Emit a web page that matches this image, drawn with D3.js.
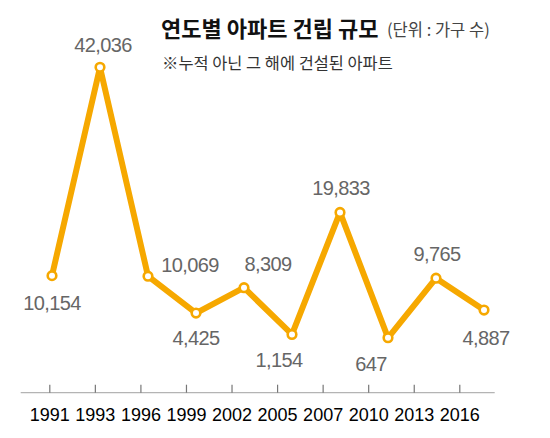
<!DOCTYPE html>
<html>
<head>
<meta charset="utf-8">
<script src="https://cdn.jsdelivr.net/npm/d3@7"></script>
<style>
  body { margin: 0; background: #fff; }
  svg { display: block; }
</style>
</head>
<body>
<svg width="550" height="438"></svg>
<script>
// data
const years = ['1991', '1993', '1996', '1999', '2002', '2005', '2007', '2010', '2013', '2016'];
const units = [10154, 42036, 10069, 4425, 8309, 1154, 19833, 647, 9765, 4887];

// where each value label sits relative to its point [dx, baseline dy]
const labelOffsets = [[0, 34], [3, -15], [42, -4], [0, 32], [24, -17], [-13, 33], [1, -17], [-17, 33], [1, -17], [2, 35]];

const svg = d3.select('svg');
const orange = '#f6a800';

const x = d3.scalePoint().domain(years).range([52, 484]);
// axis ticks are spaced a little tighter than the points in the original
const xAxisScale = d3.scalePoint().domain(years).range([49.3, 459.3]);
const y = d3.scaleLinear().domain([0, 42036]).range([342, 67.3]);

const data = years.map((yr, i) => ({ year: yr, value: units[i], off: labelOffsets[i] }));

// title
svg.append('text')
    .attr('x', 161)
    .attr('y', 37)
    .style('font-family', '"Noto Sans CJK KR", sans-serif')
    .style('font-size', '22px')
    .style('font-weight', 'bold')
    .attr('fill', '#111')
    .text('연도별 아파트 건립 규모');

svg.append('text')
    .attr('x', 387)
    .attr('y', 36)
    .style('font-family', '"Noto Sans CJK KR", sans-serif')
    .style('font-size', '16.5px')
    .attr('fill', '#444')
    .text('(단위 : 가구 수)');

svg.append('text')
    .attr('x', 162)
    .attr('y', 69)
    .style('font-family', '"Noto Sans CJK KR", sans-serif')
    .style('font-size', '16.4px')
    .attr('fill', '#333')
    .text('※누적 아닌 그 해에 건설된 아파트');

// x axis baseline
const axisY = 392.7;
svg.append('line')
    .attr('x1', 20.7)
    .attr('x2', 494.7)
    .attr('y1', axisY)
    .attr('y2', axisY)
    .attr('stroke', '#b4b4b4')
    .attr('stroke-width', 1.2);

const axis = svg.append('g')
    .attr('transform', `translate(0, ${axisY})`)
    .call(d3.axisBottom(xAxisScale).tickSize(-8).tickPadding(15.5));
axis.select('.domain').remove();
axis.selectAll('.tick line').attr('stroke', '#777').attr('stroke-width', 1.2);
axis.selectAll('.tick text')
    .style('font-family', '"Liberation Sans Narrow", "Arial Narrow", sans-serif')
    .style('font-size', '18px')
    .attr('fill', '#000');

// line
const line = d3.line()
    .x(d => x(d.year))
    .y(d => y(d.value));

svg.append('path')
    .datum(data)
    .attr('d', line)
    .attr('fill', 'none')
    .attr('stroke', orange)
    .attr('stroke-width', 6)
    .attr('stroke-linejoin', 'round');

svg.selectAll('.dot')
    .data(data)
    .enter().append('circle')
    .attr('class', 'dot')
    .attr('cx', d => x(d.year))
    .attr('cy', d => y(d.value))
    .attr('r', 4.3)
    .attr('fill', '#fff')
    .attr('stroke', orange)
    .attr('stroke-width', 2.6);

// value labels
svg.selectAll('.val')
    .data(data)
    .enter().append('text')
    .attr('class', 'val')
    .attr('x', d => x(d.year) + d.off[0])
    .attr('y', d => y(d.value) + d.off[1])
    .attr('text-anchor', 'middle')
    .style('font-family', '"Liberation Sans", Arial, sans-serif')
    .style('font-size', '20px')
    .style('letter-spacing', '-0.6px')
    .attr('fill', '#666')
    .text(d => d3.format(',')(d.value));
</script>
</body>
</html>
